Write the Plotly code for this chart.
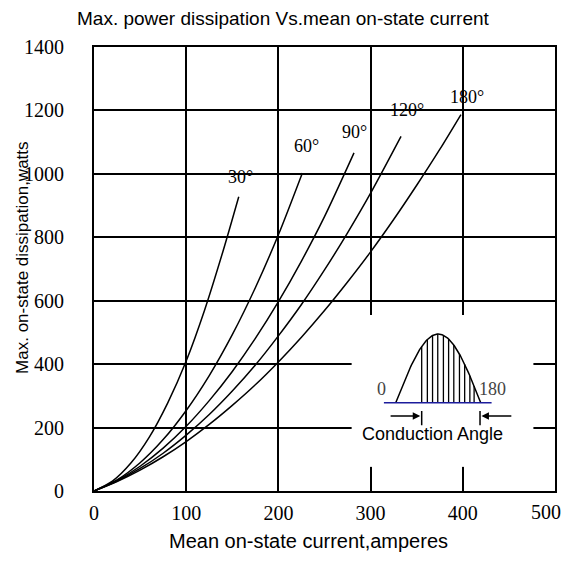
import numpy as np
import plotly.graph_objects as go

# ---- data ----
I_30 = [0, 20, 40, 60, 80, 100, 120, 140, 157]
P_30 = [0, 31, 88, 170, 278, 410, 571, 757, 928]

I_60 = [0, 25, 50, 75, 100, 125, 150, 175, 200, 226]
P_60 = [0, 35, 89, 162, 254, 364, 493, 641, 808, 1003]

I_90 = [0, 25, 50, 75, 100, 125, 150, 175, 200, 225, 250, 282]
P_90 = [0, 33, 78, 135, 204, 285, 377, 481, 597, 725, 865, 1066]

I_120 = [0, 25, 50, 75, 100, 125, 150, 175, 200, 225, 250, 275, 300, 333]
P_120 = [0, 31, 71, 119, 176, 241, 315, 397, 489, 588, 697, 814, 939, 1118]

I_180 = [0, 25, 50, 75, 100, 125, 150, 175, 200, 225, 250, 275, 300, 325, 350, 375, 398]
P_180 = [0, 30, 66, 108, 156, 210, 270, 335, 407, 485, 569, 659, 754, 856, 964, 1077, 1187]

curve_labels = ["30°", "60°", "90°", "120°", "180°"]
label_x = [159, 231, 282, 339, 405]
label_y = [991, 1087, 1133, 1200, 1241]

x_ticks = [0, 100, 200, 300, 400, 500]
y_ticks = [0, 200, 400, 600, 800, 1000, 1200, 1400]

# inset schematic (conduction angle in degrees)
hatch_deg = [55, 67, 78, 89, 101, 112, 123, 135, 146, 157, 166]
cond_start = 55
cond_end = 180

serif = "Liberation Serif"
sans = "Liberation Sans"

fig = go.Figure()

series = [(I_30, P_30), (I_60, P_60), (I_90, P_90), (I_120, P_120), (I_180, P_180)]
for (xs, ys), name in zip(series, curve_labels):
    fig.add_trace(go.Scatter(x=xs, y=ys, mode="lines", name=name,
                             line=dict(color="black", width=1.5, shape="spline", smoothing=0.8),
                             showlegend=False, hoverinfo="skip"))

for t, lx, ly in zip(curve_labels, label_x, label_y):
    fig.add_annotation(x=lx, y=ly, text=t, showarrow=False,
                       font=dict(family=serif, size=18, color="black"))

# ---- inset on its own hidden axes ----
deg = np.linspace(0, 180, 91)
fig.add_trace(go.Scatter(x=deg, y=np.sin(np.radians(deg)), xaxis="x2", yaxis="y2",
                         mode="lines", line=dict(color="black", width=1.5),
                         showlegend=False, hoverinfo="skip"))
hx, hy = [], []
for d in hatch_deg:
    hx += [d, d, None]
    hy += [0, float(np.sin(np.radians(d))), None]
fig.add_trace(go.Scatter(x=hx, y=hy, xaxis="x2", yaxis="y2", mode="lines",
                         line=dict(color="black", width=1.3),
                         showlegend=False, hoverinfo="skip"))
fig.add_trace(go.Scatter(x=[-25, 203], y=[0, 0], xaxis="x2", yaxis="y2", mode="lines",
                         line=dict(color="#1c1c9c", width=1.5),
                         showlegend=False, hoverinfo="skip"))
# tick marks of the conduction angle
fig.add_trace(go.Scatter(x=[cond_start, cond_start, None, cond_end - 1.5, cond_end - 1.5],
                         y=[-0.12, -0.33, None, -0.12, -0.33], xaxis="x2", yaxis="y2",
                         mode="lines", line=dict(color="black", width=1.5),
                         showlegend=False, hoverinfo="skip"))

# white box hiding the grid behind the inset
fig.add_shape(type="rect", xref="x2", yref="y2", x0=-93.2, x1=291.4, y0=-0.932, y1=1.277,
              fillcolor="white", line=dict(width=0), layer="below")

fig.add_annotation(x=cond_start - 3, y=-0.194, ax=-14, ay=-0.194, xref="x2", yref="y2",
                   axref="x2", ayref="y2", text="", showarrow=True, arrowhead=2,
                   arrowsize=1, arrowwidth=1.5, arrowcolor="black")
fig.add_annotation(x=cond_end + 1.5, y=-0.194, ax=248, ay=-0.194, xref="x2", yref="y2",
                   axref="x2", ayref="y2", text="", showarrow=True, arrowhead=2,
                   arrowsize=1, arrowwidth=1.5, arrowcolor="black")
fig.add_annotation(x=-31, y=0.2, xref="x2", yref="y2", text="0", showarrow=False,
                   font=dict(family=serif, size=18, color="#444"))
fig.add_annotation(x=204, y=0.2, xref="x2", yref="y2", text="180", showarrow=False,
                   font=dict(family=serif, size=18, color="#444"))
fig.add_annotation(x=77, y=-0.455, xref="x2", yref="y2", text="Conduction Angle",
                   showarrow=False, font=dict(family=sans, size=18, color="black"))

# last x tick label, nudged left so it stays inside the page
fig.add_annotation(x=x_ticks[-1], y=0, xref="x", yref="paper", text=str(x_ticks[-1]),
                   showarrow=False, xanchor="center", yanchor="middle", xshift=-9, yshift=-21,
                   font=dict(family=serif, size=20, color="black"))

# titles
fig.add_annotation(x=0.41, y=1.065, xref="paper", yref="paper", xanchor="center", yanchor="middle",
                   text="Max. power dissipation Vs.mean on-state current", showarrow=False,
                   font=dict(family=sans, size=19, color="black"))
fig.add_annotation(x=0.466, y=-0.112, xref="paper", yref="paper", xanchor="center", yanchor="middle",
                   text="Mean on-state current,amperes", showarrow=False,
                   font=dict(family=sans, size=20, color="black"))
fig.add_annotation(x=-0.154, y=0.525, xref="paper", yref="paper", xanchor="center", yanchor="middle",
                   textangle=-90, text="Max. on-state dissipation,watts", showarrow=False,
                   font=dict(family=sans, size=17, color="black"))

# the page body has an 8px margin, so the figure is 16px smaller and offset by 8px
fig.update_layout(
    width=553, height=545,
    margin=dict(l=86, r=6, t=39, b=62, autoexpand=False),
    paper_bgcolor="white", plot_bgcolor="white",
    xaxis=dict(range=[0, 500], tickvals=x_ticks[:-1], showgrid=True, gridcolor="black", gridwidth=1.5,
               showline=True, mirror=True, linecolor="black", linewidth=2,
               ticks="outside", ticklen=3, tickcolor="rgba(0,0,0,0)", zeroline=False,
               automargin=False,
               tickfont=dict(family=serif, size=20, color="black")),
    yaxis=dict(range=[0, 1400], tickvals=y_ticks, showgrid=True, gridcolor="black", gridwidth=1.5,
               showline=True, mirror=True, linecolor="black", linewidth=2,
               ticks="outside", ticklen=24, tickcolor="rgba(0,0,0,0)", zeroline=False,
               automargin=False,
               tickfont=dict(family=serif, size=20, color="black")),
    xaxis2=dict(domain=[0.559, 0.953], range=[-93.2, 291.4], anchor="y2", visible=False),
    yaxis2=dict(domain=[0.0547, 0.3964], range=[-0.932, 1.277], anchor="x2", visible=False),
)

fig.write_html("out.html")
